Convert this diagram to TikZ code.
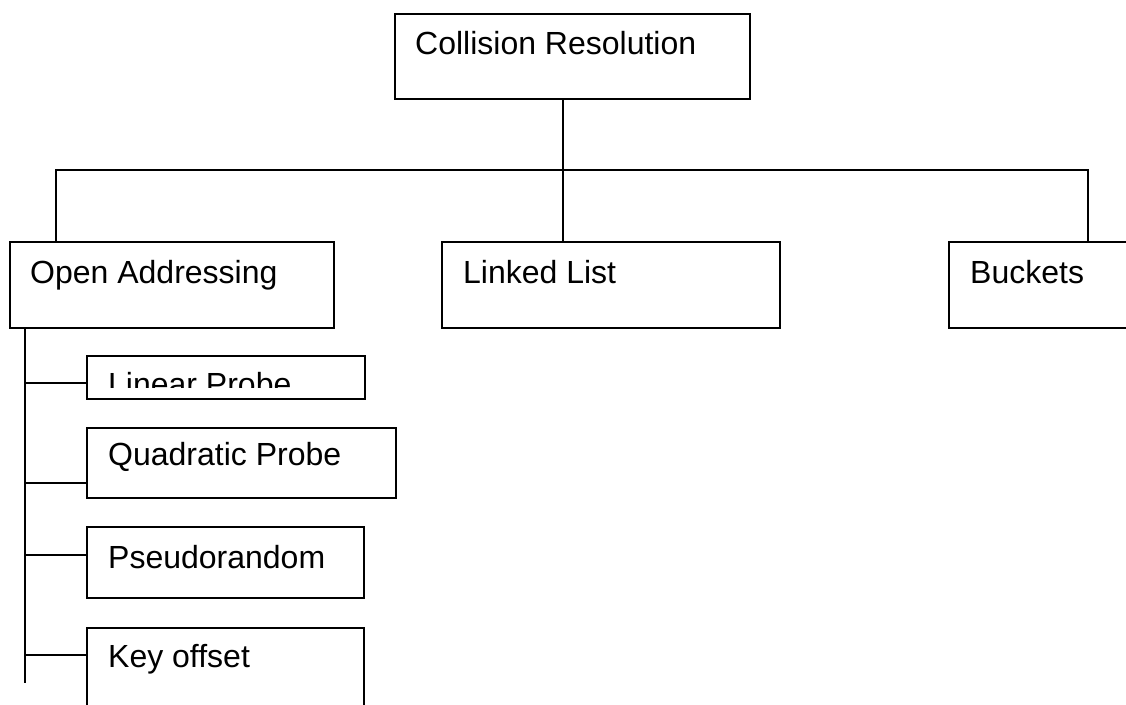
\documentclass[tikz,border=0pt]{standalone}
\usepackage{fontspec}
\setmainfont{Liberation Sans}
\usetikzlibrary{calc}
\begin{document}
\begin{tikzpicture}[x=1pt,y=-1pt,
  box/.style={draw=black,line width=1.5pt,rectangle,inner sep=0pt,anchor=north west},
  txt/.style={anchor=base west,inner sep=0pt,font=\fontsize{32}{38}\selectfont},
  conn/.style={draw=black,line width=1.5pt}]
\useasboundingbox (0,0) rectangle (1126,704);
\clip (0,0) rectangle (1126,704);
% boxes
\node[box,minimum width=355pt,minimum height=85pt] (cr) at (394,13) {};
\node[box,minimum width=324pt,minimum height=86pt] (oa) at (9,241) {};
\node[box,minimum width=338pt,minimum height=86pt] (ll) at (441,241) {};
\node[box,minimum width=260pt,minimum height=86pt] (bk) at (948,241) {};
\node[box,minimum width=278pt,minimum height=43pt] (lp) at (86,355) {};
\node[box,minimum width=309pt,minimum height=70pt] (qp) at (86,427) {};
\node[box,minimum width=277pt,minimum height=71pt] (pr) at (86,526) {};
\node[box,minimum width=277pt,minimum height=100pt] (ko) at (86,627) {};
% texts
\node[txt] (crt) at (415,54) {Collision Resolution};
\node[txt] (oat) at (30,283) {Open Addressing};
\node[txt] (llt) at (463,283) {Linked List};
\node[txt] (bkt) at (970,283) {Buckets};
\begin{scope}
  \clip (86,355) rectangle (364,387);
  \node[txt] (lpt) at (108,395) {Linear Probe};
\end{scope}
\node[txt] (qpt) at (108,465) {Quadratic Probe};
\node[txt] (prt) at (108,568) {Pseudorandom};
\node[txt] (kot) at (108,667) {Key offset};
% connectors
\coordinate (j) at (563,170);
\coordinate (hl) at (56,170);
\coordinate (hr) at (1088,170);
\coordinate (t) at (25,683);
\coordinate (b1) at (86,383);
\coordinate (b2) at (86,483);
\coordinate (b3) at (86,555);
\coordinate (b4) at (86,655);
\draw[conn] (j |- cr.south) -- (j |- ll.north);
\draw[conn] (hl |- oa.north) -- (hl) -- (hr) -- (hr |- bk.north);
\draw[conn] (t |- oa.south) -- (t);
\draw[conn] (t |- b1) -- (b1);
\draw[conn] (t |- b2) -- (b2);
\draw[conn] (t |- b3) -- (b3);
\draw[conn] (t |- b4) -- (b4);
\end{tikzpicture}
\end{document}
